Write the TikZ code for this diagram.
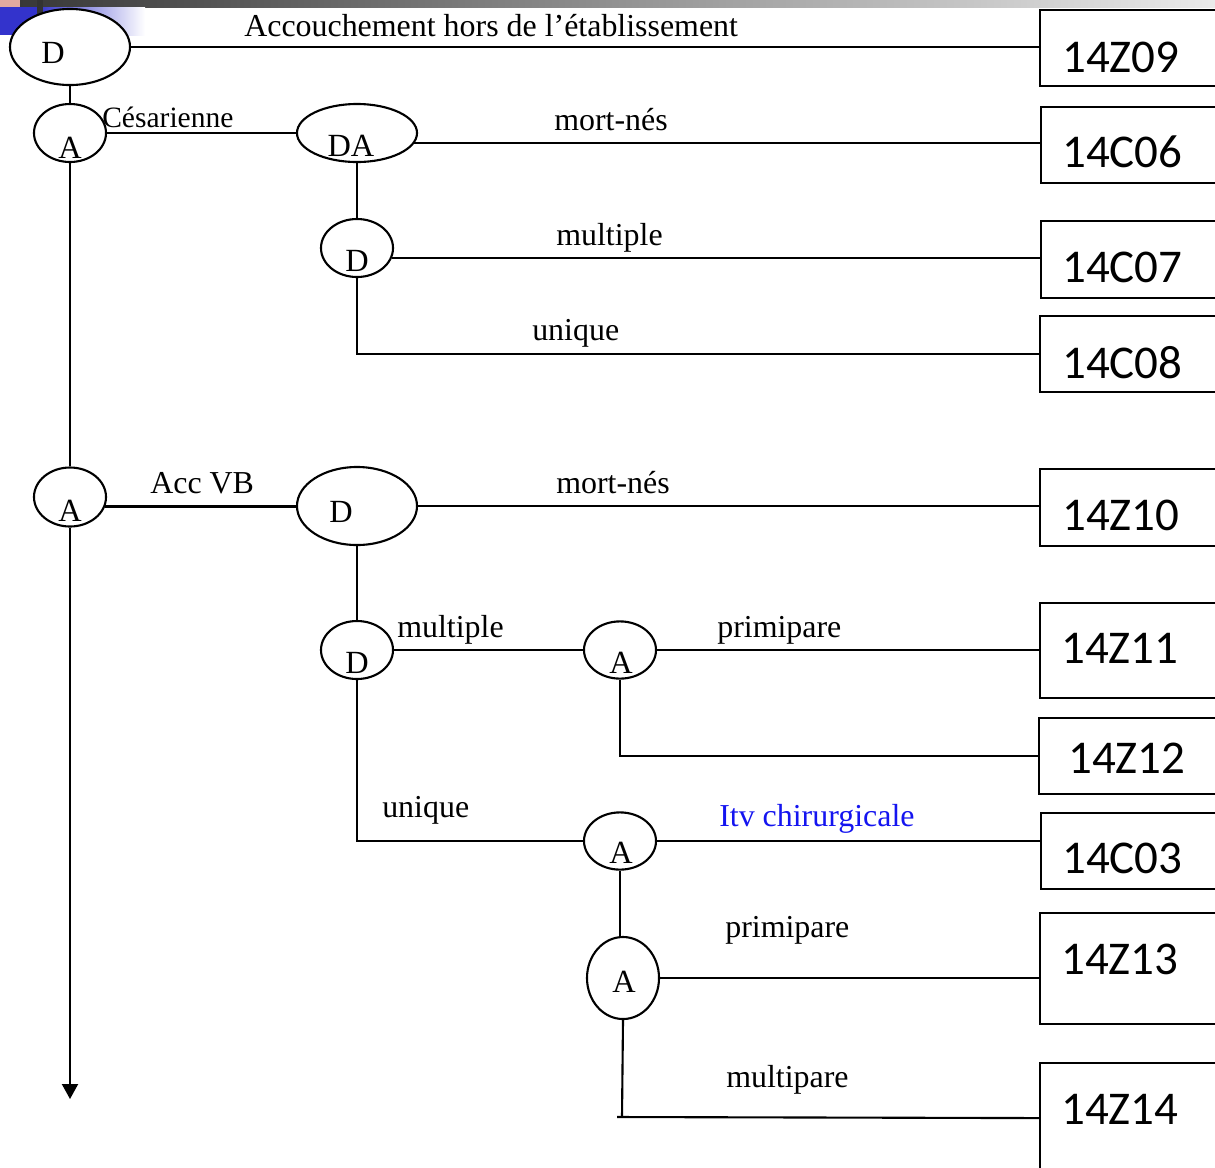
\documentclass[tikz,border=0pt]{standalone}
\usepackage{fontspec}
\setmainfont{Liberation Serif}
\newfontfamily\boxfont{Carlito}
\usetikzlibrary{shapes.geometric,arrows.meta}
\definecolor{slideblue}{RGB}{51,51,204}
\definecolor{pinkish}{RGB}{225,170,160}
\definecolor{itvblue}{RGB}{20,20,240}
\begin{document}
\begin{tikzpicture}[x=0.025cm,y=-0.025cm,
  ell/.style={draw, ellipse, line width=1.5pt, fill=white, inner sep=0pt},
  box/.style={draw, rectangle, line width=1.5pt, anchor=north west, inner sep=0pt, minimum width=5cm},
  lbl/.style={anchor=base west, inner sep=0pt, font=\fontsize{22.7}{27}\selectfont},
  let/.style={anchor=base, inner sep=0pt, font=\fontsize{23}{27}\selectfont},
  code/.style={anchor=base west, inner sep=0pt, font=\boxfont\fontsize{33.4}{39}\selectfont},
  conn/.style={line width=1.5pt}]
\clip (0,0) rectangle (1215,1167);
\fill[white] (0,0) rectangle (1215,1167);
% slide decoration
\shade[left color=black!78, right color=black!8] (20,0) rectangle (1215,7);
\fill[pinkish] (0,0) rectangle (20,7);
\fill[slideblue] (0,7) rectangle (37,35);
\shade[left color=slideblue, right color=white] (37,7) rectangle (145,35);
\fill[black!80] (37,0) rectangle (43,14);

% ellipses
\node[ell, minimum width=3cm, minimum height=1.9cm] (D1) at (70,47) {};
\node[ell, minimum width=1.8cm, minimum height=1.45cm] (A1) at (70,133) {};
\node[ell, minimum width=3cm, minimum height=1.45cm] (DA) at (357,133) {};
\node[ell, minimum width=1.8cm, minimum height=1.45cm] (D2) at (357,248) {};
\node[ell, minimum width=1.8cm, minimum height=1.475cm] (A2) at (70,497) {};
\node[ell, minimum width=3cm, minimum height=1.95cm] (D3) at (357,506) {};
\node[ell, minimum width=1.8cm, minimum height=1.45cm] (D4) at (357,650) {};
\node[ell, minimum width=1.8cm, minimum height=1.43cm] (A3) at (620,650) {};
\node[ell, minimum width=1.8cm, minimum height=1.43cm] (A4) at (620,841) {};
\node[ell, minimum width=1.8cm, minimum height=2.05cm] (A5) at (623,978) {};

% boxes
\node[box, minimum height=1.9cm] (b1) at (1039,9) {};
\node[box, minimum height=1.9cm] (b2) at (1040,106) {};
\node[box, minimum height=1.925cm] (b3) at (1040,220) {};
\node[box, minimum height=1.9cm] (b4) at (1039,315) {};
\node[box, minimum height=1.925cm] (b5) at (1039,468) {};
\node[box, minimum height=2.375cm] (b6) at (1039,602) {};
\node[box, minimum height=1.9cm] (b7) at (1038,717) {};
\node[box, minimum height=1.9cm] (b8) at (1040,812) {};
\node[box, minimum height=2.775cm] (b9) at (1039,912) {};
\node[box, minimum height=2.75cm] (b10) at (1039,1062) {};

\coordinate (arr) at (70,1099);
\coordinate (m1) at (622,1117);
\coordinate (m0) at (617,1117);

% connectors
\draw[conn] (D1.east) -- (D1.east -| b1.west);
\draw[conn] (D1.south) -- (A1.north);
\draw[conn] (A1.east) -- (DA.west);
\draw[conn] (DA.-10) -- (DA.-10 -| b2.west);
\draw[conn] (DA.south) -- (D2.north);
\draw[conn] (D2.-16) -- (D2.-16 -| b3.west);
\draw[conn] (D2.south) |- (b4.west);
\draw[conn] (A1.south) -- (A2.north);
\draw[conn] (A2.-15) -- (A2.-15 -| D3.west);
\draw[conn, -{Triangle[width=0.4cm,length=0.375cm]}] (A2.south) -- (arr);
\draw[conn] (D3.east) -- (D3.east -| b5.west);
\draw[conn] (D3.south) -- (D4.north);
\draw[conn] (D4.east) -- (A3.west);
\draw[conn] (A3.east) -- (A3.east -| b6.west);
\draw[conn] (A3.south) |- (b7.west);
\draw[conn] (D4.south) |- (A4.west);
\draw[conn] (A4.east) -- (A4.east -| b8.west);
\draw[conn] (A4.south) -- (A4.south |- A5.north);
\draw[conn] (A5.east) -- (A5.east -| b9.west);
\draw[conn] (A5.south) -- (m1);
\draw[conn] (m0) -- (b10.west);

% ellipse letters
\node[let] (tD1) at (53,63) {D};
\node[let] (tA1) at (70,158) {A};
\node[let] (tDA) at (351,156) {DA};
\node[let] (tD2) at (357,271) {D};
\node[let] (tA2) at (70,521) {A};
\node[let] (tD3) at (341,522) {D};
\node[let] (tD4) at (357,673) {D};
\node[let] (tA3) at (621,673) {A};
\node[let] (tA4) at (621,863) {A};
\node[let] (tA5) at (624,992) {A};

% edge labels
\node[lbl] (l1) at (244,36) {Accouchement hors de l’établissement};
\node[lbl, font=\fontsize{21}{25}\selectfont] (l2) at (102,127) {Césarienne};
\node[lbl] (l3) at (554,130) {mort-nés};
\node[lbl] (l4) at (556,245) {multiple};
\node[lbl] (l5) at (532,340) {unique};
\node[lbl] (l6) at (150,493) {Acc VB};
\node[lbl] (l7) at (556,493) {mort-nés};
\node[lbl] (l8) at (397,637) {multiple};
\node[lbl] (l9) at (717,637) {primipare};
\node[lbl] (l10) at (382,817) {unique};
\node[lbl, text=itvblue] (l11) at (719,826) {Itv chirurgicale};
\node[lbl] (l12) at (725,937) {primipare};
\node[lbl] (l13) at (726,1087) {multipare};

% codes
\node[code] (c1) at (1062,72) {14Z09};
\node[code] (c2) at (1062,167) {14C06};
\node[code] (c3) at (1062,282) {14C07};
\node[code] (c4) at (1062,378) {14C08};
\node[code] (c5) at (1062,530) {14Z10};
\node[code] (c6) at (1061,663) {14Z11};
\node[code] (c7) at (1068,773) {14Z12};
\node[code] (c8) at (1062,873) {14C03};
\node[code] (c9) at (1061,974) {14Z13};
\node[code] (c10) at (1061,1124) {14Z14};
\end{tikzpicture}
\end{document}
